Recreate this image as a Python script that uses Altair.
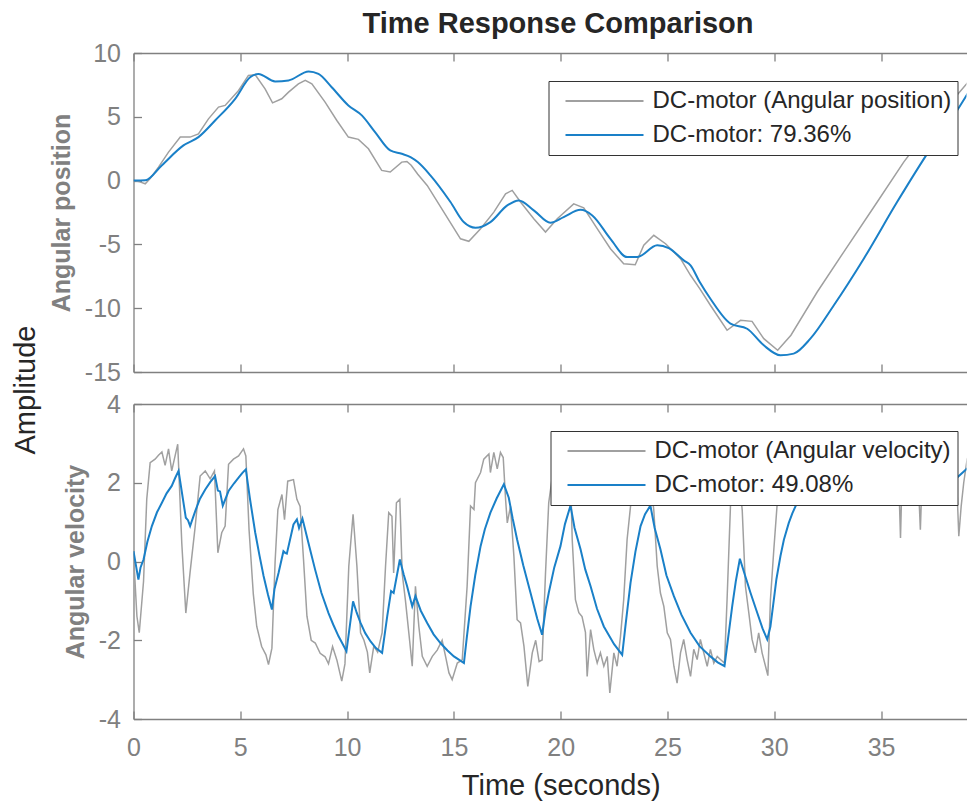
import altair as alt
import pandas as pd

FONT = "Liberation Sans"
TITLE = "Time Response Comparison"
X_TITLE = "Time (seconds)"
Y_TITLE = ["Amplitude"]
POS_TITLE = "Angular position"
VEL_TITLE = "Angular velocity"
POS_LABELS = ["DC-motor (Angular position)", "DC-motor: 79.36%"]
VEL_LABELS = ["DC-motor (Angular velocity)", "DC-motor: 49.08%"]
X_TICKS = [0, 5, 10, 15, 20, 25, 30, 35]
POS_TICKS = [-15, -10, -5, 0, 5, 10]
VEL_TICKS = [-4, -2, 0, 2, 4]
X_DOMAIN = [0, 39.0]
POS_DOMAIN = [-15, 10]
VEL_DOMAIN = [-4, 4]

# measured angular position (time s, value)
POS_MEAS = [
    (0, 0), (0.3, -0.1), (0.55, -0.25), (0.8, 0.2), (1.17, 1.06), (1.64, 2.23), (2.19, 3.41),
    (2.65, 3.41), (3.04, 3.66), (3.51, 4.84), (3.98, 5.76), (4.29, 5.89), (4.92, 7.06), (5.38, 8.24),
    (5.7, 8.29), (6.16, 7.19), (6.51, 6.09), (6.94, 6.41), (7.26, 6.93), (7.72, 7.58), (8.04, 7.85),
    (8.35, 7.58), (8.97, 6.15), (9.52, 4.71), (10.06, 3.41), (10.53, 3.23), (11.0, 2.49), (11.62, 0.8),
    (12.02, 0.67), (12.56, 1.45), (12.8, 1.5), (13.0, 1.2), (13.31, 0.5), (13.75, -0.38), (14.53, -2.47),
    (15.31, -4.56), (15.7, -4.76), (16.25, -3.77), (16.87, -2.47), (17.42, -1.03), (17.73, -0.77),
    (18.12, -1.68), (18.74, -2.99), (19.29, -4.03), (19.84, -2.99), (20.61, -1.82), (21.08, -2.13),
    (21.71, -3.77), (22.33, -5.34), (22.95, -6.52), (23.49, -6.59), (23.89, -5.07), (24.36, -4.29),
    (24.91, -4.95), (25.61, -6.12), (26.08, -7.42), (26.51, -8.47), (27.01, -9.77), (27.79, -11.73),
    (28.42, -10.95), (28.96, -11.03), (29.51, -12.39), (30.16, -13.3), (30.78, -12.12), (32.01, -8.73),
    (33.25, -5.6), (34.82, -1.68), (36.06, 1.45), (37.0, 3.54), (38.2, 6.0), (39.47, 8.5),
]
# model angular position
POS_MODEL = [
    (0, 0), (0.55, 0.02), (1.32, 1.19), (2.34, 2.76), (3.04, 3.41), (3.82, 4.71), (4.76, 6.41),
    (5.46, 8.1), (5.85, 8.36), (6.63, 7.77), (7.26, 7.85), (8.2, 8.55), (8.66, 8.36), (9.28, 7.32),
    (10.06, 5.89), (10.69, 5.11), (11.31, 3.8), (12.02, 2.36), (12.56, 2.1), (12.97, 1.84), (13.31, 1.45),
    (13.9, 0.41), (14.84, -1.68), (15.46, -3.25), (16.01, -3.7), (16.71, -3.25), (17.5, -1.94),
    (18.04, -1.55), (18.74, -2.33), (19.52, -3.3), (20.14, -2.86), (20.93, -2.29), (21.48, -2.73),
    (22.33, -4.56), (23.11, -5.99), (23.58, -5.99), (24.52, -5.07), (25.06, -5.29), (25.76, -6.25),
    (26.08, -6.64), (26.51, -7.95), (27.01, -9.26), (27.95, -11.21), (28.73, -11.61), (29.51, -12.91),
    (30.29, -13.69), (30.91, -13.56), (31.69, -12.39), (32.79, -9.77), (34.19, -6.12), (35.75, -1.68),
    (37.31, 2.49), (38.56, 5.5), (39.47, 7.97),
]
# measured angular velocity
VEL_MEAS = [
    (0, 0.2), (0.16, -1.39), (0.27, -1.81), (0.47, -0.5), (0.62, 1.58), (0.78, 2.51), (1.01, 2.6),
    (1.17, 2.7), (1.33, 2.78), (1.48, 2.44), (1.64, 2.86), (1.79, 2.3), (2.07, 2.98), (2.26, 0.47),
    (2.45, -1.31), (2.65, -0.27), (2.89, 0.9), (3.12, 2.17), (3.36, 2.3), (3.59, 2.1), (3.79, 2.3),
    (3.95, 0.22), (4.13, 0.73), (4.29, 0.9), (4.45, 2.47), (4.68, 2.6), (4.92, 2.68), (5.15, 2.86),
    (5.26, 2.68), (5.41, 0.81), (5.61, -0.83), (5.77, -1.65), (6.0, -2.16), (6.2, -2.37), (6.32, -2.62),
    (6.48, -2.2), (6.63, 0), (6.76, 1.32), (6.95, 1.7), (7.07, 1.06), (7.22, 2.04), (7.49, 2.08),
    (7.65, 1.58), (7.8, 1.4), (7.96, 0.05), (8.12, -1.39), (8.32, -2.0), (8.51, -2.07), (8.74, -2.33),
    (8.97, -2.42), (9.13, -2.6), (9.32, -2.16), (9.52, -2.5), (9.75, -3.04), (9.9, -2.6), (10.08, -0.12),
    (10.28, 1.2), (10.46, -0.12), (10.63, -1.81), (10.79, -2.0), (10.95, -2.3), (11.06, -2.83),
    (11.25, -2.15), (11.43, -2.3), (11.64, -1.81), (11.8, -0.12), (11.95, 1.24), (12.1, 1.15),
    (12.18, -0.29), (12.31, 1.49), (12.47, 1.58), (12.58, -0.3), (12.73, -0.98), (12.89, -1.81),
    (13.05, -2.66), (13.2, -0.63), (13.36, -1.65), (13.52, -2.41), (13.75, -2.66), (13.99, -2.41),
    (14.22, -2.25), (14.45, -2.0), (14.61, -2.41), (14.77, -2.83), (14.92, -3.0), (15.16, -2.58),
    (15.39, -2.5), (15.62, -0.63), (15.78, 1.41), (15.94, 1.32), (16.01, 2.0), (16.25, 2.26),
    (16.4, 2.6), (16.64, 2.73), (16.71, 2.26), (16.87, 2.77), (17.03, 2.35), (17.18, 2.77),
    (17.31, 2.64), (17.42, 1.58), (17.5, 0.98), (17.65, 1.4), (17.81, 0.13), (17.96, -1.48),
    (18.12, -1.56), (18.28, -2.15), (18.46, -3.17), (18.67, -2.32), (18.83, -2.0), (18.99, -2.54),
    (19.13, -2.5), (19.29, -0.29), (19.44, 1.49), (19.68, 2.43), (19.9, 2.7), (20.1, 2.8), (20.3, 2.6),
    (20.45, 2.5), (20.54, 0.56), (20.69, -0.97), (20.85, -1.3), (21.0, -1.4), (21.16, -1.8),
    (21.24, -2.92), (21.4, -1.73), (21.55, -2.23), (21.71, -2.58), (21.86, -2.32), (22.02, -2.66),
    (22.18, -2.41), (22.3, -3.34), (22.49, -2.32), (22.64, -2.66), (22.8, -1.9), (22.95, -0.97),
    (23.11, 0.56), (23.27, 1.4), (23.5, 2.4), (23.8, 2.7), (24.1, 2.6), (24.36, 1.3), (24.52, -0.12),
    (24.67, -0.8), (24.83, -1.14), (24.99, -1.81), (25.14, -1.98), (25.3, -2.66), (25.45, -3.09),
    (25.61, -2.32), (25.76, -1.98), (25.92, -2.49), (26.08, -2.92), (26.23, -2.23), (26.39, -2.49),
    (26.54, -1.98), (26.7, -2.32), (26.86, -2.66), (27.01, -2.23), (27.17, -2.58), (27.33, -2.41),
    (27.48, -2.49), (27.67, -2.58), (27.79, -0.97), (27.95, 1.42), (28.1, 2.5), (28.3, 2.4),
    (28.5, 1.3), (28.65, -0.63), (28.81, -1.31), (28.96, -1.98), (29.12, -2.32), (29.27, -1.81),
    (29.43, -2.32), (29.59, -2.66), (29.7, -2.9), (29.82, -0.97), (29.98, 0.31), (30.13, 1.42),
    (30.4, 2.5), (31.0, 2.7), (32.0, 2.6), (33.0, 2.8), (34.0, 2.6), (35.0, 2.7), (35.8, 2.6),
    (35.91, 0.6), (36.0, 2.5), (36.7, 2.6), (36.84, 0.81), (36.95, 2.6), (37.5, 2.7), (38.5, 2.6),
    (38.64, 0.64), (38.75, 1.4), (38.87, 2.0), (39.03, 2.6), (39.26, 2.93), (39.42, 2.4), (39.47, 2.5),
]
# model angular velocity
VEL_MODEL = [
    (0, 0.26), (0.23, -0.46), (0.33, -0.15), (0.47, 0.05), (0.65, 0.5), (0.86, 0.9), (1.1, 1.25),
    (1.33, 1.49), (1.55, 1.73), (1.79, 1.92), (1.95, 2.12), (2.11, 2.3), (2.45, 1.11), (2.55, 1.05),
    (2.65, 0.9), (2.89, 1.28), (3.1, 1.58), (3.36, 1.83), (3.6, 2.02), (3.82, 2.17), (3.95, 1.8),
    (4.05, 1.78), (4.18, 1.42), (4.45, 1.79), (4.7, 1.98), (4.92, 2.13), (5.1, 2.25), (5.26, 2.34),
    (5.45, 1.6), (5.7, 0.73), (5.9, 0.15), (6.09, -0.37), (6.3, -0.85), (6.48, -1.22), (6.6, -0.7),
    (6.79, -0.29), (7.02, 0.26), (7.1, 0.22), (7.18, 0.2), (7.49, 0.94), (7.65, 1.07), (7.75, 0.85),
    (7.91, 1.09), (8.2, 0.45), (8.5, -0.2), (8.8, -0.8), (9.13, -1.31), (9.35, -1.6), (9.6, -1.9),
    (9.8, -2.1), (9.97, -2.28), (10.28, -1.01), (10.45, -1.3), (10.63, -1.56), (10.85, -1.82),
    (11.1, -2.03), (11.35, -2.2), (11.64, -2.32), (11.88, -1.39), (12.06, -0.75), (12.18, -0.8),
    (12.47, 0.05), (12.65, -0.33), (12.81, -0.63), (13.05, -1.14), (13.2, -0.88), (13.45, -1.25),
    (13.75, -1.56), (14.05, -1.85), (14.37, -2.07), (14.7, -2.26), (15.0, -2.41), (15.25, -2.5),
    (15.47, -2.58), (15.6, -1.95), (15.78, -1.14), (16.0, -0.35), (16.25, 0.39), (16.45, 0.82),
    (16.71, 1.24), (17.0, 1.6), (17.34, 1.96), (17.57, 1.62), (17.75, 1.1), (17.96, 0.56),
    (18.25, -0.1), (18.59, -0.8), (18.9, -1.45), (19.13, -1.86), (19.3, -1.2), (19.44, -0.8),
    (19.7, -0.15), (19.99, 0.39), (20.2, 0.95), (20.46, 1.42), (20.65, 0.85), (20.93, 0.31),
    (21.15, -0.2), (21.4, -0.63), (21.7, -1.2), (22.02, -1.65), (22.5, -2.1), (22.88, -2.37),
    (23.05, -1.55), (23.27, -0.54), (23.5, 0.25), (23.74, 0.9), (23.95, 1.2), (24.2, 1.42),
    (24.4, 0.85), (24.67, 0.31), (24.95, -0.35), (25.3, -0.88), (25.65, -1.35), (26.08, -1.81),
    (26.5, -2.15), (27.01, -2.41), (27.35, -2.56), (27.67, -2.66), (28.03, -1.14), (28.2, -0.5),
    (28.39, 0.07), (28.6, -0.3), (28.89, -0.8), (29.15, -1.22), (29.45, -1.7), (29.67, -1.98),
    (29.82, -1.65), (29.98, -0.97), (30.1, -0.45), (30.29, 0.14), (30.45, 0.55), (30.68, 0.98),
    (30.85, 1.23), (31.07, 1.49), (31.6, 1.9), (32.5, 2.3), (33.5, 2.5), (34.5, 2.6), (35.5, 2.65),
    (36.5, 2.6), (37.5, 2.55), (38.0, 2.55), (38.6, 2.15), (38.72, 2.21), (39.34, 2.51), (39.47, 2.56),
]

W = 833
H_TOP = 319
H_BOT = 315
GAP = 32
X_FULL = 854.4

C_MEAS = "#a0a0a0"
C_MODEL = "#1a80c8"
C_AXIS = "#808080"
C_TEXT = "#262626"

NEG = "datum.value < 0 ? '-' + abs(datum.value) : '' + datum.value"


def axis(**kw):
    base = dict(grid=False, domainColor=C_AXIS, domainWidth=1.3, tickColor=C_AXIS,
                tickWidth=1.3, tickSize=8, labelFont=FONT, labelFontSize=25,
                labelColor=C_AXIS, labelExpr=NEG, labelFlush=False, labelOverlap=False,
                titleFont=FONT)
    base.update(kw)
    return alt.Axis(**base)


def panel(meas, model, labels, ydom, yticks, ytitle, height, lx, ly, interp, with_x):
    dm = pd.DataFrame(meas, columns=["t", "v"])
    dm["s"] = labels[0]
    dd = pd.DataFrame(model, columns=["t", "v"])
    dd["s"] = labels[1]
    xs = alt.Scale(domain=X_DOMAIN, nice=False, zero=False)
    ys = alt.Scale(domain=ydom, nice=False, zero=False)
    color = alt.Color(
        "s:N",
        scale=alt.Scale(domain=labels, range=[C_MEAS, C_MODEL]),
        legend=alt.Legend(
            title=None, orient="none", legendX=lx, legendY=ly, direction="vertical",
            symbolType="stroke", symbolSize=6084, symbolStrokeWidth=1.8, clipHeight=28,
            rowPadding=6, labelFont=FONT, labelFontSize=24, labelColor=C_TEXT,
            labelLimit=600, labelOffset=8, padding=6, symbolOffset=10,
            fillColor="white", strokeColor="#333333",
        ),
    )
    if with_x:
        x_main = axis(orient="bottom", values=X_TICKS, ticks=False, labels=True,
                      labelPadding=16.5, title=X_TITLE, titleFontSize=29,
                      titleColor=C_TEXT, titleFontWeight="normal", titlePadding=11,
                      titleX=X_FULL / 2)
    else:
        x_main = axis(orient="bottom", values=X_TICKS, ticks=False, labels=False, title=None)
    y_main = axis(orient="left", values=yticks, ticks=False, labelPadding=13, title=ytitle,
                  titleFontSize=25, titleFontWeight="bold", titleColor=C_AXIS,
                  titlePadding=10)
    x_in_bottom = axis(orient="top", offset=-height, values=X_TICKS, domain=False,
                       labels=False, title=None)
    y_in_left = axis(orient="right", offset=-W, values=yticks, domain=False,
                     labels=False, title=None)
    x_in_top = axis(orient="bottom", offset=-height, values=X_TICKS, domain=True,
                    labels=False, title=None)

    l_meas = alt.Chart(dm).mark_line(strokeWidth=1.5, clip=True).encode(
        x=alt.X("t:Q", scale=xs, axis=x_main),
        y=alt.Y("v:Q", scale=ys, axis=y_main),
        color=color,
    )
    l_model = alt.Chart(dd).mark_line(strokeWidth=2, clip=True, interpolate=interp).encode(
        x=alt.X("t:Q", scale=xs, axis=x_in_bottom),
        y=alt.Y("v:Q", scale=ys, axis=y_in_left),
        color=color,
    )
    l_frame = alt.Chart(dd).mark_line(opacity=0, clip=True).encode(
        x=alt.X("t:Q", scale=xs, axis=x_in_top),
        y=alt.Y("v:Q", scale=ys, axis=None),
    )
    return [l_meas, l_model, l_frame]


top_layers = panel(POS_MEAS, POS_MODEL, POS_LABELS, POS_DOMAIN, POS_TICKS, POS_TITLE,
                   H_TOP, 415, 28, "monotone", False)
bot_layers = panel(VEL_MEAS, VEL_MODEL, VEL_LABELS, VEL_DOMAIN, VEL_TICKS, VEL_TITLE,
                   H_BOT, 417, 27, "linear", True)

amp = alt.Chart(pd.DataFrame({"label": Y_TITLE})).mark_text(
    angle=270, fontSize=29, font=FONT, color=C_TEXT, align="center", baseline="middle"
).encode(text="label:N", x=alt.value(-107.5), y=alt.value(-14))

top = alt.layer(*top_layers).resolve_axis(x="independent", y="independent").properties(
    width=W, height=H_TOP,
    title=alt.TitleParams(TITLE, font=FONT, fontSize=29, fontWeight="bold", color=C_TEXT,
                          anchor="middle", frame="group", offset=2, dx=8),
)
bottom = alt.layer(*bot_layers, amp).resolve_axis(x="independent", y="independent").properties(
    width=W, height=H_BOT
)

chart = alt.vconcat(top, bottom, spacing=GAP, bounds="flush").resolve_scale(
    color="independent"
).properties(
    padding={"left": 3.5, "top": 2, "right": 0, "bottom": 0}
).configure_view(stroke=None)

chart.save("out.html", embed_options={"renderer": "svg", "actions": False})
